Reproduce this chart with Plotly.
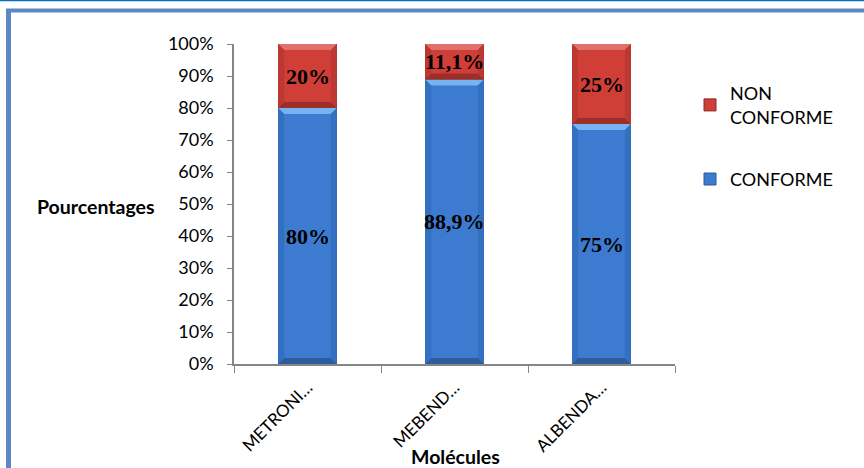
import plotly.graph_objects as go

# Chart data
categories = ["METRONI…", "MEBEND…", "ALBENDA…"]
conforme = [80, 88.9, 75]
non_conforme = [20, 11.1, 25]
y_ticks = [0, 10, 20, 30, 40, 50, 60, 70, 80, 90, 100]
y_tick_labels = [f"{v}%" for v in y_ticks]


def pct_label(v):
    s = f"{v:g}".replace(".", ",")
    return s + "%"


W, H = 864, 468
L, R, T, B = 234, 675, 44, 364  # plot area in pixels


def px(x):
    return (x - L) / (R - L)


def py(y):
    return (B - y) / (B - T)


BAR_W = 0.4  # bar width in category units
BLUE = "#3D7BD0"
BLUE_EDGE = "#2A5A9E"
RED = "#CF3F38"
RED_EDGE = "#8E2622"
LABEL_FONT = dict(family="Liberation Serif", size=22, color="black", weight="bold")

fig = go.Figure()
fig.add_trace(go.Bar(
    x=categories, y=conforme, name="CONFORME", width=BAR_W,
    marker=dict(color=BLUE, line=dict(color=BLUE_EDGE, width=1)),
    legendgroup="conforme", legendrank=2,
))
fig.add_trace(go.Bar(
    x=categories, y=non_conforme, name="NON<br>CONFORME", width=BAR_W,
    marker=dict(color=RED, line=dict(color=RED_EDGE, width=1)),
    legendgroup="non_conforme", legendrank=1,
))

# bevel shading on every stacked segment (category index units / percent units)
dx = 6 / 147
dy = 6 / 3.2
bevel_shapes = []


def bevel(i, y0, y1, top, bottom, left, right):
    h = BAR_W / 2
    xl, xr = i - h, i + h
    e = min(dy, (y1 - y0) / 2)
    paths = [
        (f"M{xl},{y1} L{xr},{y1} L{xr - dx},{y1 - e} L{xl + dx},{y1 - e} Z", top),
        (f"M{xl},{y0} L{xr},{y0} L{xr - dx},{y0 + e} L{xl + dx},{y0 + e} Z", bottom),
        (f"M{xl},{y0} L{xl},{y1} L{xl + dx},{y1 - e} L{xl + dx},{y0 + e} Z", left),
        (f"M{xr},{y0} L{xr},{y1} L{xr - dx},{y1 - e} L{xr - dx},{y0 + e} Z", right),
    ]
    for p, c in paths:
        bevel_shapes.append(dict(type="path", xref="x", yref="y", path=p,
                                 fillcolor=c, line=dict(width=0), layer="above"))


for i, (c, n) in enumerate(zip(conforme, non_conforme)):
    bevel(i, 0, c, "#77B2F2", "#2C5C9C", "#3470C0", "#3470C0")
    bevel(i, c, c + n, "#E2706A", "#9C2E29", "#BD3832", "#BD3832")

frame_shapes = [
    dict(type="line", xref="paper", yref="paper", x0=px(0), x1=px(W), y0=py(0.5), y1=py(0.5),
         line=dict(color="#0070C0", width=1.5)),
    dict(type="line", xref="paper", yref="paper", x0=px(6), x1=px(W), y0=py(10.5), y1=py(10.5),
         line=dict(color="#5A88C4", width=4)),
    dict(type="line", xref="paper", yref="paper", x0=px(8.5), x1=px(8.5), y0=py(9), y1=py(H),
         line=dict(color="#5A88C4", width=5)),
]

# value labels centred on each stacked segment
value_labels = []
for i, (c, n) in enumerate(zip(conforme, non_conforme)):
    value_labels.append(dict(text=pct_label(c), x=i, y=c / 2, xref="x", yref="y",
                             showarrow=False, font=LABEL_FONT))
    value_labels.append(dict(text=pct_label(n), x=i, y=c + n / 2, xref="x", yref="y",
                             showarrow=False, font=LABEL_FONT))

annotations = value_labels + [
    dict(text="<b>Pourcentages</b>", xref="paper", yref="paper", x=px(96), y=py(206),
         xanchor="center", yanchor="middle",
         showarrow=False, font=dict(family="Lato", size=19.5, color="black")),
    dict(text="<b>Molécules</b>", xref="paper", yref="paper", x=px(455), y=py(456),
         xanchor="center", yanchor="middle",
         showarrow=False, font=dict(family="Lato", size=19.5, color="black")),
]

fig.update_layout(
    width=W, height=H,
    margin=dict(l=L, r=W - R, t=T, b=H - B),
    barmode="stack",
    plot_bgcolor="white", paper_bgcolor="white",
    font=dict(family="Lato", size=18, color="black"),
    showlegend=True,
    legend=dict(x=px(690), y=py(75), xanchor="left", yanchor="top",
                traceorder="grouped", tracegroupgap=36,
                font=dict(family="Lato", size=18, color="black", lineposition="none"),
                itemwidth=30, bgcolor="rgba(0,0,0,0)"),
    shapes=frame_shapes + bevel_shapes, annotations=annotations,
    xaxis=dict(showline=True, linecolor="#868686", linewidth=1.5,
               ticks="outside", ticklen=7, tickcolor="#868686", tickson="boundaries",
               tickangle=-45, tickfont=dict(family="Lato", size=17, color="black"),
               ticklabelstandoff=5,
               showgrid=False, range=[-0.5, 2.5]),
    yaxis=dict(range=[0, 100], tickvals=y_ticks, ticktext=y_tick_labels,
               showline=True, linecolor="#868686", linewidth=1.5,
               ticks="outside", ticklen=5, tickcolor="#868686",
               tickfont=dict(family="Lato", size=18, color="black"),
               ticklabelstandoff=10,
               showgrid=False, zeroline=False),
)

fig.write_html("out.html")
